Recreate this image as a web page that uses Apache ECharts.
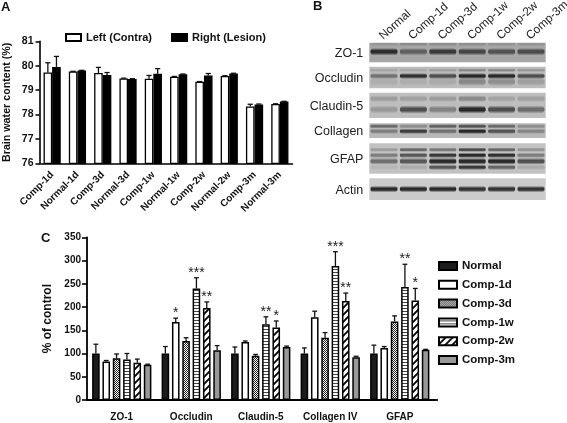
<!DOCTYPE html>
<html><head><meta charset="utf-8">
<style>html,body{margin:0;padding:0;background:#fff}#c{width:567px;height:423px;filter:blur(0.45px)}</style>
<script src="https://cdn.jsdelivr.net/npm/echarts@6/dist/echarts.min.js"></script>
</head><body><div id="c"></div>
<script>
// Panel A
const waterCats = ['Comp-1d','Normal-1d','Comp-3d','Normal-3d','Comp-1w','Normal-1w','Comp-2w','Normal-2w','Comp-3m','Normal-3m'];
const leftValues  = [79.72,79.76,79.70,79.48,79.47,79.55,79.34,79.58,78.33,78.43];
const leftTops    = [80.12,79.77,79.93,79.49,79.60,79.56,79.35,79.59,78.42,78.44];
const rightValues = [79.95,79.80,79.62,79.46,79.67,79.65,79.60,79.68,78.41,78.53];
const rightTops   = [80.38,79.81,79.72,79.47,79.88,79.66,79.68,79.69,78.43,78.54];
const waterTicks = [76,81];

// Panel B
const laneNames = ['Normal','Comp-1d','Comp-3d','Comp-1w','Comp-2w','Comp-3m'];
const rowNames = ['ZO-1','Occludin','Claudin-5','Collagen','GFAP','Actin'];
const zo1Main = [0.95,0.55,0.85,0.75,0.65,0.7];
const zo1Top = [0.12,0.22,0.2,0.2,0.15,0.15];
const occludinMain = [0.5,0.95,0.75,1,1,0.75];
const occludinTop = [0.15,0.12,0.2,0.35,0.35,0.25];
const occludinLow = [0.1,0.1,0.12,0.35,0.3,0.2];
const claudinTop = [0.22,0.2,0.22,0.35,0.18,0.2];
const claudinMain = [0.25,0.75,0.4,1,0.75,0.55];
const collagenTop = [0.55,0.3,0.6,0.7,0.55,0.3];
const collagenMain = [0.4,0.85,0.5,1,0.7,0.35];
const gfap1 = [0.25,0.6,0.5,0.8,0.6,0.3];
const gfap2 = [0.45,0.7,0.9,1,0.95,0.45];
const gfap3 = [0.55,0.7,1,1,1,0.75];
const gfap4 = [0.08,0.15,0.7,0.9,0.6,0.15];
const actinMain = [1,1,1,0.95,0.95,0.95];

// Panel C
const markerCats = ['ZO-1','Occludin','Claudin-5','Collagen IV','GFAP'];
const normalVals = [100,100,100,100,100];
const normalTops = [120,115,114,112,118];
const comp1dVals = [83,168,125,178,112];
const comp1dTops = [85,176,127,191,115];
const comp3dVals = [90,127,95,134,169];
const comp3dTops = [99,134,98,145,181];
const comp1wVals = [87,240,163,288,243];
const comp1wTops = [100,263,179,319,292];
const comp2wVals = [80,198,156,213,214];
const comp2wTops = [88,211,170,230,240];
const comp3mVals = [76,107,114,92,108];
const comp3mTops = [77,117,116,94,109];
const comp1dStars = ['','*','','',''];
const comp1wStars = ['','***','**','***','**'];
const comp2wStars = ['','**','*','**','*'];

const FONT = '"Liberation Sans", Arial, sans-serif';

function tile(w,h,draw){const c=document.createElement('canvas');c.width=w;c.height=h;draw(c.getContext('2d'));return {image:c,repeat:'repeat'};}
const patDots = tile(2,2,g=>{g.fillStyle='#fff';g.fillRect(0,0,2,2);g.fillStyle='#222';g.fillRect(0,0,1,1);g.fillRect(1,1,1,1);});
const patHoriz = tile(3,3,g=>{g.fillStyle='#fff';g.fillRect(0,0,3,3);g.fillStyle='#444';g.fillRect(0,2,3,1);});
const patDiag = tile(7,7,g=>{g.fillStyle='#fff';g.fillRect(0,0,7,7);g.strokeStyle='#000';g.lineWidth=1.9;
  g.beginPath();g.moveTo(-1,8);g.lineTo(8,-1);g.moveTo(-8,8);g.lineTo(1,-1);g.moveTo(6,8);g.lineTo(15,-1);g.stroke();});

function whisker(gridOffset,capHalf){
  return function(params,api){
    const top=api.coord([api.value(0),api.value(2)]);
    const base=api.coord([api.value(0),api.value(1)]);
    const x=top[0]+gridOffset;
    const style={stroke:'#111',lineWidth:1.3,fill:null};
    const kids=[
      {type:'line',shape:{x1:x,y1:base[1],x2:x,y2:top[1]},style},
      {type:'line',shape:{x1:x-capHalf,y1:top[1],x2:x+capHalf,y2:top[1]},style}];
    const star=api.value(3);
    if(star&&star!=='-') kids.push({type:'text',style:{x:x,y:top[1]+2,text:star,align:'center',verticalAlign:'bottom',font:'14px '+FONT,fill:'#222'}});
    return {type:'group',children:kids};
  };
}
function errSeries(xi,yi,vals,tops,off,cap,stars){
  return {type:'custom',xAxisIndex:xi,yAxisIndex:yi,z:3,clip:false,silent:true,
    data:vals.map((v,i)=>[i,v,tops[i],stars&&stars[i]?stars[i]:'-']),
    dimensions:[{name:'c',type:'ordinal'},{name:'v',type:'number'},{name:'t',type:'number'},{name:'s',type:'ordinal'}],
    encode:{x:0,y:[1,2]},renderItem:whisker(off,cap)};
}
function barA(name,data,color){
  return {name,type:'bar',xAxisIndex:0,yAxisIndex:0,data,barWidth:8.6,barGap:'0%',z:2,
    itemStyle:{color,borderColor:'#000',borderWidth:1.3}};
}
function barC(name,data,color){
  return {name,type:'bar',xAxisIndex:1,yAxisIndex:1,data,barWidth:7.6,barGap:'36%',z:2,
    itemStyle:{color,borderColor:'#000',borderWidth:1.5}};
}
const cSpacing=10.35;

const rowBands=[
  {top:0,bottom:19.6,bg:'#a6a6a6',bands:[{y:1.5,h:2.5,v:zo1Top},{y:9,h:5,v:zo1Main}]},
  {top:24,bottom:45.6,bg:'#bcbcbc',bands:[{y:27.5,h:2.5,v:occludinTop},{y:33.3,h:4,v:occludinMain},{y:39,h:6,v:occludinLow}]},
  {top:50,bottom:75.3,bg:'#bebebe',bands:[{y:56,h:4.5,v:claudinTop},{y:66.8,h:5.5,v:claudinMain}]},
  {top:80.6,bottom:95.3,bg:'#b8b8b8',bands:[{y:83.6,h:3,v:collagenTop},{y:88.6,h:3.6,v:collagenMain}]},
  {top:100.6,bottom:131,bg:'#c2c2c2',bands:[{y:107,h:3,v:gfap1},{y:112.6,h:3.6,v:gfap2},{y:118.6,h:4.6,v:gfap3},{y:124.6,h:3.6,v:gfap4}]},
  {top:135.6,bottom:157.3,bg:'#cbcbcb',bands:[{y:146.4,h:4.4,v:actinMain}]}
];
const panelData=rowNames.map((n,i)=>[0,rowBands[i].top,rowBands[i].bottom,n,rowBands[i].bg]);
const bandData=[];
rowBands.forEach(r=>r.bands.forEach(b=>b.v.forEach((v,l)=>bandData.push([l,b.y,b.h,v]))));

const option={
  animation:false,
  textStyle:{fontFamily:FONT},
  grid:[
    {left:39.5,top:41.3,width:253,height:122},
    {left:87,top:237.3,width:347.5,height:162.7},
    {left:369.3,top:42.7,width:176.4,height:157.3}
  ],
  xAxis:[
    {type:'category',gridIndex:0,data:waterCats,
      axisLine:{lineStyle:{color:'#000',width:1.6}},
      axisTick:{alignWithLabel:true,length:3,lineStyle:{color:'#000',width:1.5}},
      axisLabel:{rotate:45,interval:0,margin:10,color:'#111',fontWeight:'bold',fontSize:10,fontFamily:FONT}},
    {type:'category',gridIndex:1,data:markerCats,
      axisLine:{lineStyle:{color:'#000',width:1.8}},
      axisTick:{alignWithLabel:true,length:5,lineStyle:{color:'#000',width:1.6}},
      axisLabel:{interval:0,margin:12,color:'#111',fontWeight:'bold',fontSize:10,fontFamily:FONT}},
    {type:'category',gridIndex:2,data:laneNames,position:'top',
      axisLine:{show:false},axisTick:{show:false},axisLabel:{show:false}}
  ],
  yAxis:[
    {type:'value',gridIndex:0,min:waterTicks[0],max:waterTicks[1],interval:1,
      name:'Brain water content (%)',nameLocation:'middle',nameGap:27,
      nameTextStyle:{color:'#111',fontWeight:'bold',fontSize:10.7,fontFamily:FONT},
      axisLine:{show:true,lineStyle:{color:'#000',width:1.6}},
      axisTick:{show:true,length:4,lineStyle:{color:'#000',width:1.5}},splitLine:{show:false},
      axisLabel:{margin:6,color:'#111',fontWeight:'bold',fontSize:10.5,fontFamily:FONT}},
    {type:'value',gridIndex:1,min:0,max:350,interval:50,
      name:'% of control',nameLocation:'middle',nameGap:33,
      nameTextStyle:{color:'#111',fontWeight:'bold',fontSize:12,fontFamily:FONT},
      axisLine:{show:true,lineStyle:{color:'#000',width:1.8}},
      axisTick:{show:true,length:5,lineStyle:{color:'#000',width:1.6}},splitLine:{show:false},
      axisLabel:{margin:6,color:'#111',fontWeight:'bold',fontSize:10,fontFamily:FONT}},
    {type:'value',gridIndex:2,inverse:true,min:0,max:157.3,show:false,splitLine:{show:false}}
  ],
  legend:[
    {data:['Left (Contra)','Right (Lesion)'],left:60,top:27,icon:'rect',itemWidth:15,itemHeight:7,itemGap:19,selectedMode:false,
      textStyle:{color:'#111',fontWeight:'bold',fontSize:11,fontFamily:FONT}},
    {data:['Normal','Comp-1d','Comp-3d','Comp-1w','Comp-2w','Comp-3m'],orient:'vertical',left:433,top:255,icon:'rect',itemWidth:18,itemHeight:8,itemGap:6.8,selectedMode:false,
      textStyle:{color:'#111',fontWeight:'bold',fontSize:11.5,fontFamily:FONT}}
  ],
  graphic:[
    {type:'text',left:1,top:1,style:{text:'A',font:'bold 13px '+FONT,fill:'#111'}},
    {type:'text',left:313,top:0,style:{text:'B',font:'bold 13px '+FONT,fill:'#111'}},
    {type:'text',left:41,top:232,style:{text:'C',font:'bold 13px '+FONT,fill:'#111'}},
    {type:'rect',shape:{x:434,y:399.1,width:4,height:1.8},style:{fill:'#000'}}
  ],
  series:[
    barA('Left (Contra)',leftValues,'#fff'),
    barA('Right (Lesion)',rightValues,'#000'),
    errSeries(0,0,leftValues,leftTops,-4.3,2.6),
    errSeries(0,0,rightValues,rightTops,4.3,2.6),

    barC('Normal',normalVals,'#1c1c1c'),
    barC('Comp-1d',comp1dVals,'#fff'),
    barC('Comp-3d',comp3dVals,patDots),
    barC('Comp-1w',comp1wVals,patHoriz),
    barC('Comp-2w',comp2wVals,patDiag),
    barC('Comp-3m',comp3mVals,'#999'),
    errSeries(1,1,normalVals,normalTops,-2.5*cSpacing,2.4),
    errSeries(1,1,comp1dVals,comp1dTops,-1.5*cSpacing,2.4,comp1dStars),
    errSeries(1,1,comp3dVals,comp3dTops,-0.5*cSpacing,2.4),
    errSeries(1,1,comp1wVals,comp1wTops,0.5*cSpacing,2.4,comp1wStars),
    errSeries(1,1,comp2wVals,comp2wTops,1.5*cSpacing,2.4,comp2wStars),
    errSeries(1,1,comp3mVals,comp3mTops,2.5*cSpacing,2.4),

    {type:'custom',xAxisIndex:2,yAxisIndex:2,z:1,silent:true,clip:false,data:panelData,
      dimensions:[{name:'l',type:'number'},{name:'t',type:'number'},{name:'b',type:'number'},{name:'n',type:'ordinal'},{name:'c',type:'ordinal'}],
      encode:{x:0,y:[1,2]},
      renderItem(p,api){
        const a=api.coord([0,api.value(1)]),b=api.coord([0,api.value(2)]),bw=api.size([1,0])[0];
        const x=a[0]-bw/2;
        return {type:'group',children:[
          {type:'rect',shape:{x,y:a[1],width:bw*6,height:b[1]-a[1]},style:{fill:api.value(4)}},
          {type:'text',style:{x:x-6,y:(a[1]+b[1])/2+1,text:api.value(3),align:'right',verticalAlign:'middle',font:'12.5px '+FONT,fill:'#222'}}
        ]};
      }},
    {type:'custom',xAxisIndex:2,yAxisIndex:2,z:2,silent:true,clip:false,data:bandData,
      encode:{x:0,y:1},
      renderItem(p,api){
        const c=api.coord([api.value(0),api.value(1)]),bw=api.size([1,0])[0];
        const h=api.size([0,api.value(2)])[1],v=api.value(3);
        const w=bw*0.92, hh=h*1.5;
        const ink=a=>'rgba(15,15,15,'+a+')';
        return {type:'rect',shape:{x:c[0]-w/2,y:c[1]-hh/2,width:w,height:hh,r:hh/2},
          style:{fill:{type:'linear',x:0,y:0,x2:0,y2:1,colorStops:[
            {offset:0,color:ink(0)},{offset:0.35,color:ink(v*0.85)},{offset:0.65,color:ink(v*0.85)},{offset:1,color:ink(0)}]}}};
      }},
    {type:'custom',xAxisIndex:2,yAxisIndex:2,z:3,silent:true,clip:false,
      data:laneNames.map((n,i)=>[i,0,n]),
      dimensions:[{name:'l',type:'number'},{name:'t',type:'number'},{name:'n',type:'ordinal'}],
      encode:{x:0,y:1},
      renderItem(p,api){
        const c=api.coord([api.value(0),0]);
        return {type:'text',x:c[0]-3,y:c[1]-5,rotation:42*Math.PI/180,
          style:{x:0,y:0,text:api.value(2),align:'left',verticalAlign:'middle',font:'11.8px '+FONT,fill:'#222'}};
      }}
  ]
};
echarts.init(document.getElementById('c'),null,{renderer:'canvas'}).setOption(option);
</script></body></html>
